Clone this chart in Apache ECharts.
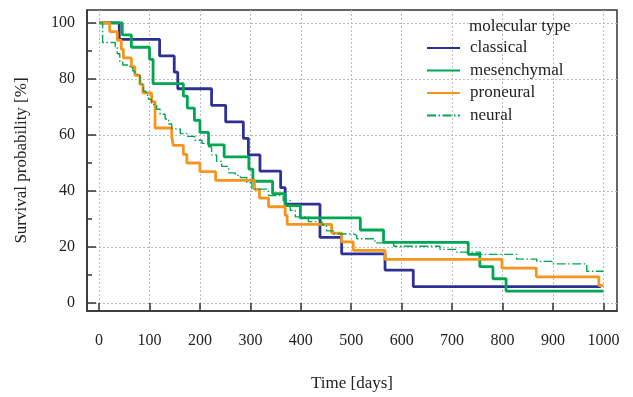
<!DOCTYPE html>
<html>
<head>
<meta charset="utf-8">
<script src="https://cdn.jsdelivr.net/npm/echarts@6/dist/echarts.min.js"></script>
<style>
  html, body { margin: 0; padding: 0; background: #fff; }
  #chart { width: 633px; height: 397px; }
</style>
</head>
<body>
<div id="chart"></div>
<script>
// Kaplan-Meier curves: event times (days) and survival (%)
const classicalTime = [0, 40, 120, 149, 156, 223, 251, 286, 296, 319, 360, 369, 438, 481, 567, 623, 995];
const classicalSurv = [100, 94.1, 88.2, 82.4, 76.5, 70.6, 64.7, 58.8, 52.9, 47.1, 41.2, 35.3, 23.5, 17.6, 11.8, 5.9, 5.9];

const mesenchymalTime = [0, 46, 64, 100, 107, 167, 175, 189, 200, 217, 248, 297, 305, 344, 369, 399, 518, 564, 732, 755, 781, 807, 1000];
const mesenchymalSurv = [100, 95.7, 91.3, 87.0, 78.3, 73.9, 69.6, 65.2, 60.9, 56.5, 52.2, 47.8, 43.5, 39.1, 34.8, 30.4, 26.1, 21.7, 17.4, 13.0, 8.7, 4.3, 4.3];

const proneuralTime = [0, 21, 36, 44, 48, 64, 71, 81, 87, 104, 111, 144, 147, 167, 174, 200, 231, 308, 318, 336, 369, 373, 461, 481, 504, 567, 799, 867, 991, 1000];
const proneuralSurv = [100, 96.9, 93.8, 90.6, 87.5, 84.4, 81.3, 78.1, 75.0, 71.9, 62.5, 59.4, 56.3, 53.1, 50.0, 46.9, 43.8, 40.6, 37.5, 34.4, 31.3, 28.1, 25.0, 21.9, 18.8, 15.6, 12.5, 9.4, 6.3, 6.3];

const neuralTime = [0, 7, 32, 36, 41, 47, 61, 67, 71, 81, 88, 93, 98, 104, 114, 121, 131, 138, 144, 161, 174, 190, 204, 217, 223, 233, 243, 257, 270, 280, 293, 303, 336, 365, 379, 389, 415, 442, 451, 465, 504, 511, 547, 584, 676, 709, 756, 828, 868, 898, 967, 1000];
const neuralSurv = [100, 93.0, 91.5, 89.0, 86.0, 85.0, 84.0, 82.8, 81.6, 77.9, 75.6, 74.2, 72.7, 70.9, 69.2, 67.4, 65.7, 63.9, 62.2, 60.5, 59.5, 58.1, 57.0, 55.8, 52.9, 50.6, 48.8, 46.5, 45.6, 44.8, 43.0, 40.7, 38.4, 36.6, 33.1, 30.8, 29.1, 27.9, 25.8, 24.7, 24.2, 23.0, 21.5, 20.3, 19.2, 18.2, 17.4, 15.7, 14.9, 14.0, 11.4, 11.4];

const xTicks = [0, 100, 200, 300, 400, 500, 600, 700, 800, 900, 1000];
const yTicks = [0, 20, 40, 60, 80, 100];
const yMinorTicks = [10, 30, 50, 70, 90];

const FONT = "Liberation Serif";
const INK = "#222";

function pairs(times, surv) {
  return times.map((t, i) => [t, surv[i]]);
}

const chart = echarts.init(document.getElementById("chart"));

function kmSeries(name, times, surv, color, width, dash) {
  return {
    name,
    type: "line",
    step: "end",
    symbol: "none",
    data: pairs(times, surv),
    color,
    lineStyle: { color, width, type: dash || "solid" },
  };
}

chart.setOption({
  animation: false,
  title: {
    text: "molecular type",
    left: 469,
    top: 18,
    padding: 0,
    textStyle: { fontFamily: FONT, fontSize: 17, fontWeight: "normal", color: INK },
  },
  legend: {
    orient: "vertical",
    left: 426,
    top: 39,
    padding: 0,
    itemWidth: 33,
    itemHeight: 12,
    itemGap: 4.5,
    data: ["classical", "mesenchymal", "proneural", "neural"],
    itemStyle: { opacity: 0 },
    textStyle: {
      fontFamily: FONT,
      fontSize: 17,
      lineHeight: 18,
      color: INK,
      padding: [0, 0, 0, 5],
    },
  },
  grid: {
    left: 87,
    right: 16,
    top: 10,
    bottom: 79,
    show: true,
    borderColor: "#333",
    borderWidth: 1.5,
  },
  xAxis: {
    type: "value",
    min: -24,
    max: 1027,
    name: "Time [days]",
    nameLocation: "middle",
    nameGap: 64,
    nameTextStyle: { fontFamily: FONT, fontSize: 17, color: INK },
    axisLine: { onZero: false, lineStyle: { color: "#333", width: 1.5 } },
    axisTick: { inside: true, length: 8, customValues: xTicks, lineStyle: { color: "#333", width: 1.5 } },
    axisLabel: {
      customValues: xTicks,
      margin: 22,
      fontFamily: FONT,
      fontSize: 16,
      color: INK,
      formatter: (v) => String(v),
    },
    splitLine: { show: true, lineStyle: { color: "#bbb", type: [2, 2], width: 1 } },
  },
  yAxis: [
    {
      type: "value",
      min: -2.8,
      max: 104.6,
      name: "Survival probability [%]",
      nameLocation: "middle",
      nameGap: 57,
      nameTextStyle: { fontFamily: FONT, fontSize: 17, color: INK },
      axisLine: { onZero: false, lineStyle: { color: "#333", width: 1.5 } },
      axisTick: { inside: true, length: 9, customValues: yTicks, lineStyle: { color: "#333", width: 1.5 } },
      axisLabel: { customValues: yTicks, margin: 12, fontFamily: FONT, fontSize: 16, color: INK },
      splitLine: { show: true, lineStyle: { color: "#bbb", type: [2, 2], width: 1 } },
    },
    {
      type: "value",
      position: "left",
      min: -2.8,
      max: 104.6,
      axisLine: { show: false, onZero: false },
      axisTick: { inside: true, length: 5, customValues: yMinorTicks, lineStyle: { color: "#333", width: 1.5 } },
      axisLabel: { show: false },
      splitLine: { show: false },
    },
  ],
  series: [
    kmSeries("classical", classicalTime, classicalSurv, "#2e3192", 2.8),
    kmSeries("mesenchymal", mesenchymalTime, mesenchymalSurv, "#00a651", 2.8),
    kmSeries("proneural", proneuralTime, proneuralSurv, "#f7941d", 2.8),
    kmSeries("neural", neuralTime, neuralSurv, "#00a651", 1.4, [9, 2.5, 1.5, 2.5]),
  ],
});

window.addEventListener("resize", () => chart.resize());
</script>
</body>
</html>
